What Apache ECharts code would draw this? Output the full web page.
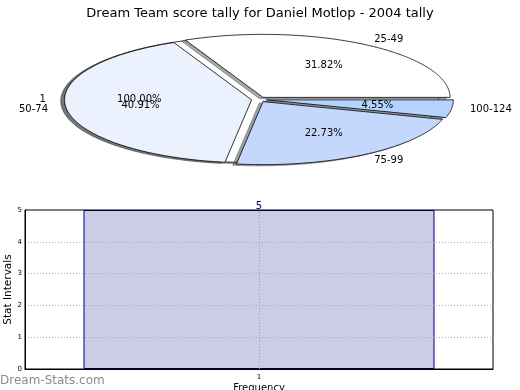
<!DOCTYPE html>
<html>
<head>
<meta charset="utf-8">
<script src="https://cdn.jsdelivr.net/npm/echarts@6/dist/echarts.min.js"></script>
<style>html,body{margin:0;padding:0;background:#fff}#c{width:520px;height:390px}</style>
</head>
<body>
<div id="c"></div>
<script>
// ---- data ----
const titleText = 'Dream Team score tally for Daniel Motlop - 2004 tally';
const pieLabels = ['25-49', '50-74', '75-99', '100-124'];
const pieValues = [7, 9, 5, 1];
const outerLabels = ['1'];
const outerValues = [1];
const barCategories = ['1'];
const barValues = [5];
const yTickMin = 0, yTickMax = 5, yTickStep = 1;

// ---- styles / layout ----
const pieColors = ['#ffffff', '#ebf2fe', '#c4d8fd', '#b4d4ff'];
const outerColors = ['#ffffff'];
const CX = 259, CY = 99.5, RX = 187, RY = 63;
const EXPLODE = 0.04, LABEL_D = 1.1, PCT_D = 0.6;
const SH_X = -0.02 * RX, SH_Y = 0.02 * RY;
const FONT = 'DejaVu Sans';

function wedges(values) {
  const total = values.reduce((a, b) => a + b, 0);
  let acc = 0;
  return values.map(v => {
    const a0 = acc / total * 360;
    acc += v;
    const a1 = acc / total * 360;
    const mid = (a0 + a1) / 2 * Math.PI / 180;
    return { a0, a1, mid, pct: (v / total * 100).toFixed(2) + '%',
      cx: CX + EXPLODE * RX * Math.cos(mid), cy: CY - EXPLODE * RY * Math.sin(mid) };
  });
}
const mainW = wedges(pieValues);
const outerW = wedges(outerValues);

function pts(w, dx, dy) {
  const p = [];
  const full = (w.a1 - w.a0) >= 359.999;
  if (!full) p.push([w.cx + dx, w.cy + dy]);
  const n = Math.max(4, Math.ceil((w.a1 - w.a0) / 0.5));
  for (let i = 0; i <= n; i++) {
    const a = (w.a0 + (w.a1 - w.a0) * i / n) * Math.PI / 180;
    p.push([w.cx + dx + RX * Math.cos(a), w.cy + dy - RY * Math.sin(a)]);
  }
  return p;
}
function darker(hex) {
  const r = parseInt(hex.slice(1, 3), 16), g = parseInt(hex.slice(3, 5), 16), b = parseInt(hex.slice(5, 7), 16);
  return 'rgb(' + Math.round(r * 0.3) + ',' + Math.round(g * 0.3) + ',' + Math.round(b * 0.3) + ')';
}
function shadowEl(w, color) {
  return { type: 'polygon', shape: { points: pts(w, SH_X, SH_Y) },
    style: { fill: color, stroke: color, lineWidth: 0.8, opacity: 0.5 } };
}
function wedgeEl(w, color) {
  return { type: 'polygon', shape: { points: pts(w, 0, 0) },
    style: { fill: color, stroke: '#000', lineWidth: 0.8 } };
}
function labelEls(w, label) {
  const lx = w.cx + LABEL_D * RX * Math.cos(w.mid);
  const ly = w.cy - LABEL_D * RY * Math.sin(w.mid);
  const px = w.cx + PCT_D * RX * Math.cos(w.mid);
  const py = w.cy - PCT_D * RY * Math.sin(w.mid);
  return [
    { type: 'text', x: lx, y: ly, style: { text: label, fill: '#000', fontSize: 10, fontFamily: FONT,
      align: Math.cos(w.mid) > 0 ? 'left' : 'right', verticalAlign: 'middle' } },
    { type: 'text', x: px, y: py, style: { text: w.pct, fill: '#000', fontSize: 10, fontFamily: FONT,
      align: 'center', verticalAlign: 'middle' } }
  ];
}

const chart = echarts.init(document.getElementById('c'), null, { renderer: 'canvas' });
chart.setOption({
  animation: false,
  backgroundColor: '#fff',
  title: { text: titleText, left: 'center', top: 2,
    textStyle: { fontFamily: FONT, fontSize: 13, fontWeight: 'normal', color: '#000' } },
  graphic: [{ type: 'text', left: 0, top: 375, z: 100,
    style: { text: 'Dream-Stats.com', fill: '#8c8c8c', fontFamily: FONT, fontSize: 12, fontWeight: 'normal' } }],
  grid: { left: 25, right: 27, top: 210, bottom: 21, outerBoundsMode: 'none', containLabel: false, z: 4,
    show: true, borderColor: '#000', borderWidth: 1, backgroundColor: 'transparent' },
  xAxis: { type: 'category', data: barCategories, z: 5,
    axisLine: { lineStyle: { color: '#000', width: 1 } },
    axisTick: { show: false },
    axisLabel: { fontSize: 7, color: '#000', margin: 5, fontFamily: FONT },
    name: 'Frequency', nameLocation: 'middle', nameGap: 14, nameMoveOverlap: false,
    nameTextStyle: { fontSize: 10, color: '#000', fontFamily: FONT },
    splitLine: { show: false } },
  yAxis: { type: 'value', min: yTickMin, max: yTickMax, interval: yTickStep, z: 5,
    axisLine: { show: true, lineStyle: { color: '#000', width: 1 } },
    axisTick: { show: false },
    axisLabel: { fontSize: 7, color: '#000', margin: 3, fontFamily: FONT },
    name: 'Stat Intervals', nameLocation: 'middle', nameGap: 11, nameMoveOverlap: false,
    nameTextStyle: { fontSize: 10.5, color: '#000', fontFamily: FONT },
    splitLine: { show: true, showMinLine: false, showMaxLine: false,
      lineStyle: { type: [1, 2], color: '#aaa', width: 1 } } },
  series: [
    { type: 'bar', data: barValues, barWidth: '75%', z: 2,
      itemStyle: { color: '#cccce6', borderColor: '#00008b', borderWidth: 1 },
      label: { show: true, position: 'top', distance: -1, color: '#00008b', fontSize: 10, fontFamily: FONT },
      markLine: { silent: true, symbol: 'none', z: 6, label: { show: false },
        lineStyle: { type: [1, 2], color: '#999', width: 1 },
        data: barCategories.map(c => ({ xAxis: c })) } },
    { type: 'custom', coordinateSystem: 'none', data: outerValues, z: 10, silent: true,
      renderItem: (params) => {
        const w = outerW[params.dataIndex];
        return { type: 'group', children: [shadowEl(w, darker(outerColors[params.dataIndex])), wedgeEl(w, outerColors[params.dataIndex])] };
      } },
    { type: 'custom', coordinateSystem: 'none', data: pieValues, z: 11, silent: true,
      renderItem: (params) => shadowEl(mainW[params.dataIndex], darker(pieColors[params.dataIndex])) },
    { type: 'custom', coordinateSystem: 'none', data: pieValues, z: 12, silent: true,
      renderItem: (params) => {
        const i = params.dataIndex, w = mainW[i];
        return { type: 'group', children: [wedgeEl(w, pieColors[i])].concat(labelEls(w, pieLabels[i])) };
      } },
    { type: 'custom', coordinateSystem: 'none', data: outerValues, z: 13, silent: true,
      renderItem: (params) => ({ type: 'group', children: labelEls(outerW[params.dataIndex], outerLabels[params.dataIndex]) }) }
  ]
});
</script>
</body>
</html>
